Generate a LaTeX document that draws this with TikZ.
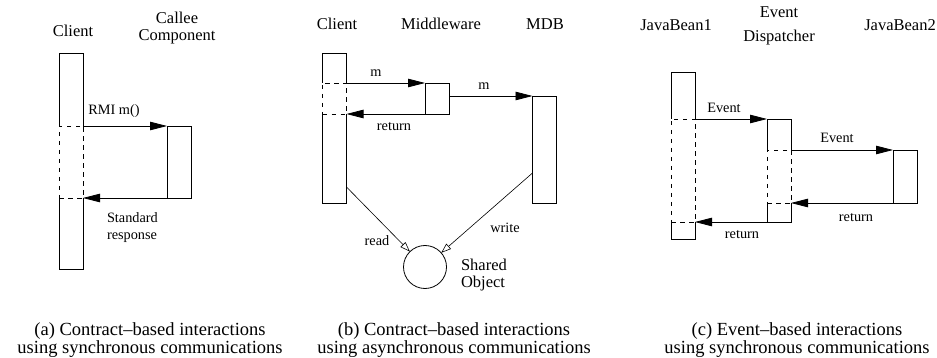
\documentclass[tikz,border=0pt]{standalone}
\usepackage{fontspec}
\setmainfont{Liberation Serif}
\usetikzlibrary{arrows.meta,calc}
\begin{document}
\begin{tikzpicture}[x=1pt,y=-1pt,
  every node/.style={inner sep=0pt, outer sep=0pt},
  lane/.style={draw=none, minimum width=24pt},
  fullbox/.style={draw, line width=0.8pt, minimum width=24pt},
  dashbox/.style={draw, line width=0.8pt, dash pattern=on 4.5pt off 4.5pt, minimum width=24pt},
  msg/.style={-{Triangle[length=17pt,width=8.5pt]}, line width=0.8pt},
  opn/.style={-{Triangle[open,length=10pt,width=7pt]}, line width=0.6pt},
  headtxt/.style={font=\fontsize{16.5}{17}\selectfont, anchor=base, align=center},
  lbl/.style={font=\fontsize{14.3}{17}\selectfont, anchor=base},
  captxt/.style={font=\fontsize{18.5}{16}\selectfont, anchor=base, align=center},
  sideln/.style={line width=0.8pt}
]
\useasboundingbox (0,0) rectangle (937,358);

% ---------------- (a)
\node[headtxt] (ha1) at (73,37) {Client};
\node[headtxt] (ha2a) at (177,24) {Callee};
\node[headtxt] (ha2b) at (177,41) {Component};
\node[dashbox, minimum height=72pt] (a1d) at (71,162) {};
\node[lane, minimum height=73pt] (a1) at (71,89.5) {};
\node[lane, minimum height=71pt] (a3) at (71,233.5) {};
\node[fullbox, minimum height=72pt] (a2) at (179,162) {};
\draw[sideln] (a1.south west) |- (a1.north east) -- (a1.south east);
\draw[sideln] (a3.north west) |- (a3.south east) -- (a3.north east);
\draw[msg] (a1.south east) -- (a2.north west);
\draw[msg] (a2.south west) -- (a3.north east);
\node[lbl] (la1) at (114,115) {RMI m()};
\node[lbl, anchor=base west] (la2a) at (107,223) {Standard};
\node[lbl, anchor=base west] (la2b) at (107,240) {response};

% ---------------- (b)
\node[headtxt] (hb1) at (337,30) {Client};
\node[headtxt] (hb2) at (441,30) {Middleware};
\node[headtxt] (hb3) at (545,30) {MDB};
\node[dashbox, minimum height=31pt] (b1d) at (334.5,98.5) {};
\node[lane, minimum height=30pt] (b1) at (334.5,68) {};
\node[lane, minimum height=89pt] (b3) at (334.5,158.5) {};
\draw[sideln] (b1.south west) |- (b1.north east) -- (b1.south east);
\draw[sideln] (b3.north west) |- (b3.south east) -- (b3.north east);
\node[fullbox, minimum height=31pt] (bm) at (437,98.5) {};
\node[fullbox, minimum height=107pt] (bd) at (544.5,149.5) {};
\node[circle, draw, line width=0.8pt, minimum size=43pt] (sh) at (425,267) {};
\draw[msg] (b1.south east) -- (bm.north west);
\draw[msg] (bm.east |- bd.north) -- (bd.north west);
\draw[msg] (bm.south west) -- (b3.north east);
\draw[opn] ($(b3.south east)+(0,-16)$) -- (sh);
\draw[opn] ($(bd.south west)+(0,-30)$) -- (sh);
\node[lbl] (lb1) at (376,77) {m};
\node[lbl] (lb2) at (484,90) {m};
\node[lbl] (lb3) at (394,131) {return};
\node[lbl] (lb4) at (377,245) {read};
\node[lbl] (lb5) at (505,233) {write};
\node[font=\fontsize{16.5}{17}\selectfont, anchor=base west] (lb6a) at (461,270) {Shared};
\node[font=\fontsize{16.5}{17}\selectfont, anchor=base west] (lb6b) at (461,287) {Object};

% ---------------- (c)
\node[headtxt] (hc1) at (676,31) {JavaBean1};
\node[headtxt] (hc2a) at (779,18) {Event};
\node[headtxt] (hc2b) at (779,42) {Dispatcher};
\node[headtxt] (hc3) at (900,31) {JavaBean2};
\node[dashbox, minimum height=103pt] (c1d) at (683,170.5) {};
\node[lane, minimum height=47pt] (c1) at (683,95.5) {};
\node[lane, minimum height=17pt] (c3) at (683,230.5) {};
\draw[sideln] (c1.south west) |- (c1.north east) -- (c1.south east);
\draw[sideln] (c3.north west) |- (c3.south east) -- (c3.north east);
\node[dashbox, minimum height=53pt] (e1d) at (779,176.5) {};
\node[lane, minimum height=31pt] (e1) at (779,134.5) {};
\node[lane, minimum height=19pt] (e3) at (779,212.5) {};
\draw[sideln] (e1.south west) |- (e1.north east) -- (e1.south east);
\draw[sideln] (e3.north west) |- (e3.south east) -- (e3.north east);
\node[fullbox, minimum height=53pt] (j2) at (905,176.5) {};
\draw[msg] (c1.south east) -- (e1.north west);
\draw[msg] (e1.south east) -- (j2.north west);
\draw[msg] (j2.south west) -- (e3.north east);
\draw[msg] (e3.south west) -- (c3.north east);
\node[lbl] (lc1) at (724,113) {Event};
\node[lbl] (lc2) at (837,143) {Event};
\node[lbl] (lc3) at (856,222) {return};
\node[lbl] (lc4) at (742,239) {return};

% ---------------- captions
\node[captxt] (capa) at (150,353) {(a) Contract--based interactions\\using synchronous communications};
\node[captxt] (capb) at (454,353) {(b) Contract--based interactions\\using asynchronous communications};
\node[captxt] (capc) at (797,353) {(c) Event--based interactions\\using synchronous communications};
\end{tikzpicture}
\end{document}
